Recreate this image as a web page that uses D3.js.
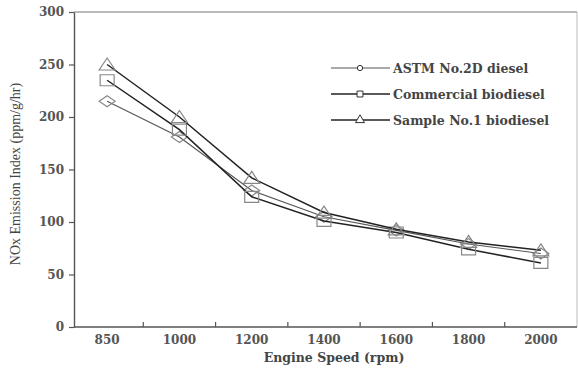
<!DOCTYPE html>
<html>
<head>
<meta charset="utf-8">
<script src="https://cdn.jsdelivr.net/npm/d3@7"></script>
<style>
  body { margin: 0; background: #fff; }
  svg { display: block; }
</style>
</head>
<body>
<svg id="chart" width="578" height="369"></svg>
<script>
const speeds = ["850", "1000", "1200", "1400", "1600", "1800", "2000"];
const astm = [215, 181, 130, 105, 92, 79, 70];
const commercial = [235, 188, 124, 101, 90, 74, 61];
const sample1 = [250, 200, 142, 109, 93, 81, 73];
const yTicks = [0, 50, 100, 150, 200, 250, 300];

// markers in the source are wider than tall (stretched image)
const W = 16, H = 11;
const wideDiamond = { draw(c) { c.moveTo(-W / 2, 0); c.lineTo(0, -H / 2); c.lineTo(W / 2, 0); c.lineTo(0, H / 2); c.closePath(); } };
const wideSquare = { draw(c) { c.rect(-W / 2 + 1, -H / 2, W - 2, H); } };
const wideTriangle = { draw(c) { c.moveTo(0, -H / 2 - 1); c.lineTo(W / 2, H / 2); c.lineTo(-W / 2, H / 2); c.closePath(); } };

const series = [
  { name: "ASTM No.2D diesel", values: astm, symbol: wideDiamond, legendSymbol: d3.symbolCircle, line: "#555", width: 1.1 },
  { name: "Commercial biodiesel", values: commercial, symbol: wideSquare, legendSymbol: d3.symbolSquare, line: "#222", width: 1.5 },
  { name: "Sample No.1 biodiesel", values: sample1, symbol: wideTriangle, legendSymbol: d3.symbolTriangle, line: "#222", width: 1.5 },
];

const mLeft = 74, mRight = 577, mTop = 12, mBottom = 327;
const svg = d3.select("#chart");
const serifBold = "DejaVu Serif, serif";

const x = d3.scaleBand().domain(speeds).range([mLeft - 3, mRight]);
const y = d3.scaleLinear().domain([0, 300]).range([mBottom, mTop]);

// frame
svg.append("line").attr("x1", mLeft).attr("x2", mRight).attr("y1", mTop).attr("y2", mTop)
  .attr("stroke", "#777").attr("stroke-width", 1.2);
svg.append("line").attr("x1", mRight).attr("x2", mRight).attr("y1", mTop).attr("y2", mBottom)
  .attr("stroke", "#bbb").attr("stroke-width", 1);

// y axis
const yAxis = svg.append("g").attr("transform", `translate(${mLeft},0)`)
  .call(d3.axisLeft(y).tickValues(yTicks).tickSize(5).tickSizeOuter(0).tickPadding(5));
yAxis.select(".domain").attr("stroke", "#555").attr("stroke-width", 1.4);
yAxis.selectAll(".tick line").attr("stroke", "#555").attr("stroke-width", 1.2);
yAxis.selectAll(".tick text").style("font-size", "12px").style("font-weight", "bold")
  .style("font-family", serifBold).attr("fill", "#555");

// x axis: labels at category centres, minor ticks at boundaries
const xAxis = svg.append("g").attr("transform", `translate(0,${mBottom})`)
  .call(d3.axisBottom(x).tickSize(0).tickPadding(8));
xAxis.select(".domain").attr("d", `M${mLeft},0H${mRight}`)
  .attr("stroke", "#555").attr("stroke-width", 1.4);
xAxis.selectAll(".tick text").style("font-size", "12px").style("font-weight", "bold")
  .style("font-family", serifBold).attr("fill", "#555");
svg.append("g").selectAll("line")
  .data(speeds.slice(1))
  .join("line")
  .attr("x1", d => x(d)).attr("x2", d => x(d))
  .attr("y1", mBottom).attr("y2", mBottom - 5)
  .attr("stroke", "#555").attr("stroke-width", 1.2);

// axis titles
svg.append("text").attr("x", 334).attr("y", 362)
  .attr("text-anchor", "middle").style("font-size", "12.5px").style("font-weight", "bold")
  .style("font-family", serifBold).attr("fill", "#444")
  .text("Engine Speed (rpm)");
svg.append("text").attr("transform", "translate(20,174) rotate(-90)")
  .attr("text-anchor", "middle").style("font-size", "14px")
  .style("font-family", "Liberation Serif, serif").attr("fill", "#444")
  .text("NOx Emission Index (ppm/g/hr)");

const cx = d => x(d) + x.bandwidth() / 2;
const line = d3.line().x((d, i) => cx(speeds[i])).y(d => y(d));

series.forEach(s => {
  svg.append("path").datum(s.values)
    .attr("d", line).attr("fill", "none")
    .attr("stroke", s.line).attr("stroke-width", s.width);
  svg.append("g").selectAll("path")
    .data(s.values)
    .join("path")
    .attr("transform", (d, i) => `translate(${cx(speeds[i])},${y(d)})`)
    .attr("d", d3.symbol().type(s.symbol))
    .attr("fill", "none").attr("stroke", "#888").attr("stroke-width", 1.2);
});

// legend
const legend = svg.append("g").attr("transform", "translate(331,68)");
series.forEach((s, i) => {
  const g = legend.append("g").attr("transform", `translate(0,${i * 26})`);
  g.append("line").attr("x1", 0).attr("x2", 59).attr("stroke", s.line).attr("stroke-width", s.width);
  g.append("path").attr("transform", "translate(29,0)")
    .attr("d", d3.symbol().type(s.legendSymbol).size(i === 0 ? 22 : 35))
    .attr("fill", "#fff").attr("stroke", "#333").attr("stroke-width", 1);
  g.append("text").attr("x", 62).attr("y", 4.5)
    .style("font-size", "12.5px").style("font-weight", "bold")
    .style("font-family", serifBold).attr("fill", "#444")
    .text(s.name);
});
</script>
</body>
</html>
